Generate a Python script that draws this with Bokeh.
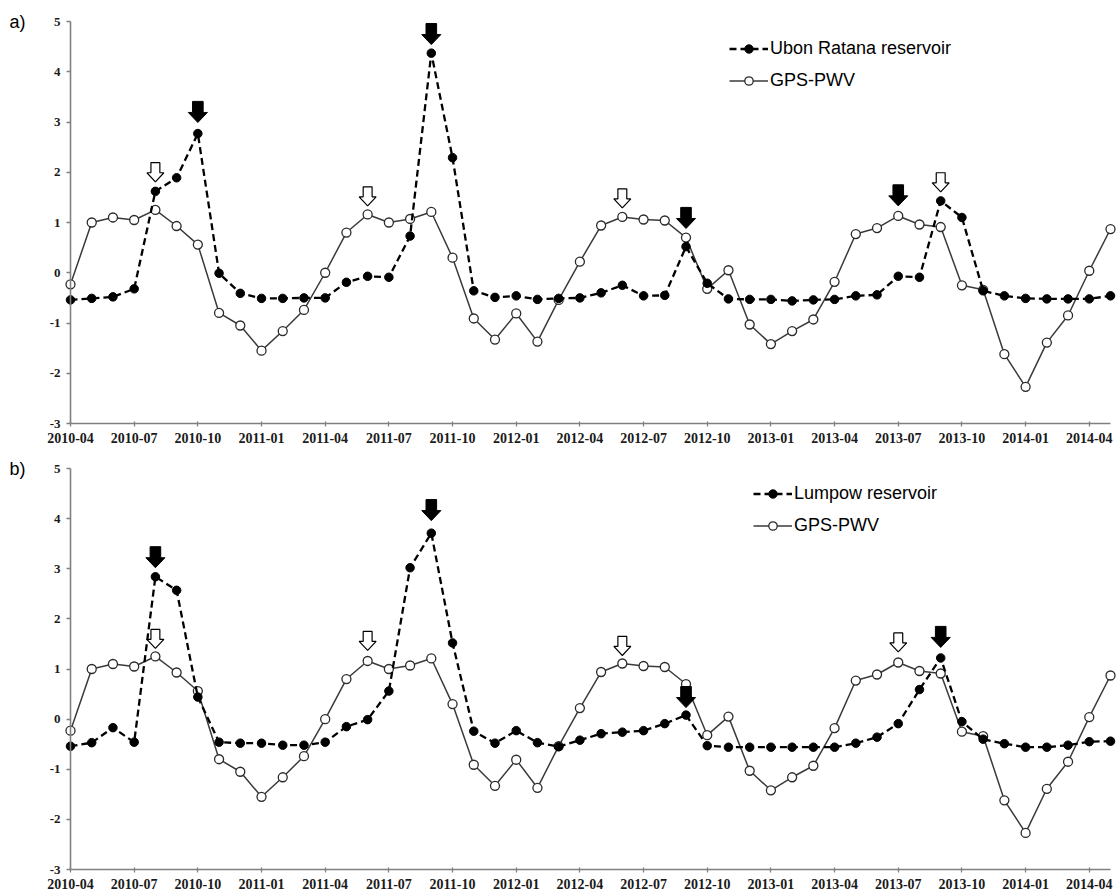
from bokeh.plotting import figure
from bokeh.models import Range1d, FixedTicker, Legend, LegendItem, Label
from bokeh.layouts import column
from bokeh.embed import file_html
from bokeh.resources import INLINE

# ---------------- data ----------------
month_index = list(range(50))          # 2010-04 ... 2014-05, monthly
tick_positions = list(range(0, 49, 3))
tick_labels = ["2010-04", "2010-07", "2010-10", "2011-01", "2011-04", "2011-07",
               "2011-10", "2012-01", "2012-04", "2012-07", "2012-10", "2013-01",
               "2013-04", "2013-07", "2013-10", "2014-01", "2014-04"]
y_ticks = [-3, -2, -1, 0, 1, 2, 3, 4, 5]

gps_pwv = [-0.23, 1.00, 1.10, 1.05, 1.25, 0.93, 0.56, -0.80, -1.05, -1.55,
           -1.16, -0.74, 0.00, 0.80, 1.16, 1.00, 1.07, 1.21, 0.30, -0.91,
           -1.33, -0.81, -1.37, -0.54, 0.22, 0.94, 1.11, 1.06, 1.04, 0.70,
           -0.32, 0.05, -1.03, -1.42, -1.16, -0.93, -0.18, 0.77, 0.89, 1.13,
           0.96, 0.91, -0.25, -0.34, -1.62, -2.27, -1.39, -0.85, 0.04, 0.87]

ubon_ratana = [-0.54, -0.51, -0.48, -0.32, 1.62, 1.89, 2.77, -0.01, -0.41, -0.51,
               -0.51, -0.50, -0.50, -0.19, -0.07, -0.09, 0.73, 4.37, 2.29, -0.36,
               -0.49, -0.46, -0.53, -0.51, -0.50, -0.40, -0.25, -0.46, -0.45, 0.52,
               -0.21, -0.52, -0.53, -0.53, -0.56, -0.54, -0.53, -0.46, -0.44, -0.07,
               -0.09, 1.43, 1.10, -0.36, -0.46, -0.51, -0.52, -0.52, -0.52, -0.46]

lumpow = [-0.54, -0.47, -0.17, -0.46, 2.84, 2.57, 0.44, -0.46, -0.48, -0.48,
          -0.52, -0.52, -0.46, -0.15, -0.01, 0.56, 3.02, 3.71, 1.52, -0.24,
          -0.48, -0.23, -0.47, -0.55, -0.42, -0.29, -0.26, -0.23, -0.09, 0.08,
          -0.53, -0.56, -0.56, -0.56, -0.56, -0.56, -0.56, -0.48, -0.36, -0.09,
          0.59, 1.22, -0.05, -0.40, -0.49, -0.56, -0.56, -0.52, -0.45, -0.44]

# arrow annotations: month index and value of arrow tip
a_filled_x = [6, 17, 29, 39]
a_filled_tip = [2.99, 4.54, 0.88, 1.33]
a_hollow_x = [4, 14, 26, 41]
a_hollow_tip = [1.81, 1.33, 1.29, 1.61]
b_filled_x = [4, 17, 29, 41]
b_filled_tip = [3.02, 3.96, 0.23, 1.43]
b_hollow_x = [4, 14, 26, 39]
b_hollow_tip = [1.41, 1.37, 1.27, 1.34]

AX_FONT = "Liberation Serif"
SANS = "Liberation Sans"

PX_PER_MONTH = 1040 / 49.0
LEFT_PAD = 70          # px between figure edge and the y axis
RIGHT_PAD = 8


def arrow_shapes(xs, tips, hw_head, hw_shaft, h_head, h_total):
    X, Y = [], []
    for x, t in zip(xs, tips):
        X.append([x, x - hw_head, x - hw_shaft, x - hw_shaft,
                  x + hw_shaft, x + hw_shaft, x + hw_head])
        Y.append([t, t + h_head, t + h_head, t + h_total,
                  t + h_total, t + h_head, t + h_head])
    return X, Y


def make_panel(res_vals, res_name, filled_x, filled_tip, hollow_x, hollow_tip,
               tag, top_gap, plot_h, bottom_gap, legend_x, legend_top):
    px_per_unit = plot_h / 8.0
    x0 = -LEFT_PAD / PX_PER_MONTH
    x1 = 49 + RIGHT_PAD / PX_PER_MONTH
    y0 = -3 - bottom_gap / px_per_unit
    y1 = 5 + top_gap / px_per_unit
    total_h = top_gap + plot_h + bottom_gap
    p = figure(width=1118, height=total_h,
               frame_width=1118, frame_height=total_h,
               min_border=0,
               x_range=Range1d(x0, x1), y_range=Range1d(y0, y1),
               output_backend="svg", toolbar_location=None)
    p.outline_line_color = None
    p.grid.grid_line_color = None
    p.background_fill_color = "white"
    p.border_fill_color = "white"

    p.xaxis.ticker = FixedTicker(ticks=tick_positions)
    p.xaxis.major_label_overrides = {t: l for t, l in zip(tick_positions, tick_labels)}
    p.xaxis.bounds = (0, 49)
    p.xaxis.fixed_location = -3
    p.yaxis.ticker = FixedTicker(ticks=y_ticks)
    p.yaxis.major_label_overrides = {v: str(v) for v in y_ticks}
    p.yaxis.bounds = (-3, 5)
    p.yaxis.fixed_location = 0
    for ax in (p.xaxis, p.yaxis):
        ax.axis_line_color = "#808080"
        ax.axis_line_width = 1.6
        ax.major_tick_line_color = "#808080"
        ax.major_tick_line_width = 1.3
        ax.minor_tick_line_color = None
        ax.major_label_text_font = AX_FONT
        ax.major_label_text_font_style = "bold"
        ax.major_label_text_color = "#1a1a1a"
    p.xaxis.major_label_text_font_size = "14px"
    p.yaxis.major_label_text_font_size = "13px"
    p.xaxis.major_tick_in = 2
    p.xaxis.major_tick_out = 3
    p.xaxis.major_label_standoff = 6
    p.yaxis.major_tick_in = 0
    p.yaxis.major_tick_out = 4
    p.yaxis.major_label_standoff = 6

    gl = p.line(month_index, gps_pwv, line_color="#3a3a3a", line_width=1.5)
    gs = p.scatter(month_index, gps_pwv, marker="circle", size=9,
                   fill_color="white", line_color="#2a2a2a", line_width=1.3)
    rl = p.line(month_index, res_vals, line_color="black", line_width=2.3,
                line_dash="7 4")
    rs = p.scatter(month_index, res_vals, marker="circle", size=8.5,
                   fill_color="black", line_color="black")

    fx, fy = arrow_shapes(filled_x, filled_tip, 0.45, 0.25, 0.20, 0.42)
    p.patches(fx, fy, fill_color="black", line_color="black", line_width=1)
    hx, hy = arrow_shapes(hollow_x, hollow_tip, 0.40, 0.21, 0.18, 0.38)
    p.patches(hx, hy, fill_color="white", line_color="black", line_width=1.2)

    item_h, gap = 21, 11
    leg_h = 2 * item_h + gap
    legend = Legend(items=[LegendItem(label=res_name, renderers=[rl, rs]),
                           LegendItem(label="GPS-PWV", renderers=[gl, gs])],
                    location=(LEFT_PAD + legend_x, total_h - legend_top - leg_h),
                    orientation="vertical",
                    padding=0, margin=0, spacing=gap,
                    glyph_width=39, glyph_height=item_h, label_height=item_h,
                    label_standoff=2,
                    label_text_font=SANS, label_text_font_size="18px",
                    label_text_color="black",
                    border_line_color=None, background_fill_alpha=0)
    p.add_layout(legend, "center")

    p.add_layout(Label(x=x0 + 9 / PX_PER_MONTH, y=5, text=tag, text_font=SANS,
                       text_font_size="18px", text_baseline="middle",
                       text_align="left", text_color="black"))
    return p


# panel a: plot area from y=21 to y=423 of a 449 px tall figure
pa = make_panel(ubon_ratana, "Ubon Ratana reservoir", a_filled_x, a_filled_tip,
                a_hollow_x, a_hollow_tip, "a)", 21, 402, 26, 659, 38)
# panel b: plot area from y=468 to y=869 (19 px below the figure top)
pb = make_panel(lumpow, "Lumpow reservoir", b_filled_x, b_filled_tip,
                b_hollow_x, b_hollow_tip, "b)", 19, 401, 26, 683, 34)

layout = column(pa, pb, spacing=0)
open("out.html", "w").write(file_html(layout, INLINE))
